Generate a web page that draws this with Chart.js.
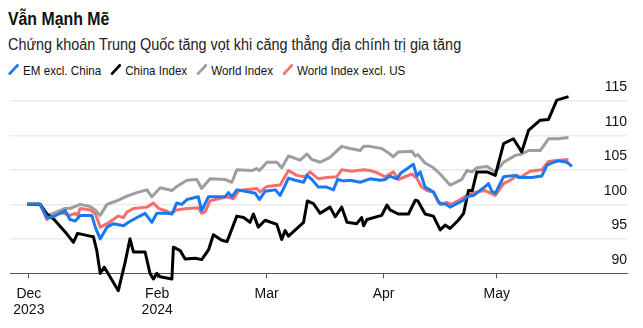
<!DOCTYPE html>
<html lang="vi">
<head>
    <meta charset="UTF-8">
    <title>Vẫn Mạnh Mẽ</title>
    <script src="https://cdn.jsdelivr.net/npm/chart.js"></script>
    <style>
        body {
            margin: 0;
            background: #fff;
            font-family: "Liberation Sans", Arial, sans-serif;
            color: #111;
        }
        .wrap {
            position: relative;
            width: 643px;
            height: 328px;
            overflow: hidden;
        }
        .title, .subtitle, .legend {
            position: absolute;
            left: 8px;
            white-space: nowrap;
            transform-origin: 0 0;
        }
        .title {
            top: 10px;
            font-size: 18px;
            line-height: 18px;
            font-weight: bold;
            transform: scaleX(0.88);
        }
        .subtitle {
            top: 36.5px;
            font-size: 16px;
            line-height: 16px;
            color: #222;
            transform: scaleX(0.9);
        }
        .legend {
            top: 64px;
            font-size: 13.5px;
            line-height: 13px;
            transform: scaleX(0.86);
        }
        .legend .item {
            display: inline-block;
            margin-right: 10.5px;
        }
        .legend svg {
            vertical-align: baseline;
            margin-right: 4.5px;
        }
        canvas {
            position: absolute;
            left: 0;
            top: 76px;
        }
    </style>
</head>
<body>
<div class="wrap">
    <div class="title">Vẫn Mạnh Mẽ</div>
    <div class="subtitle">Chứng khoán Trung Quốc tăng vọt khi căng thẳng địa chính trị gia tăng</div>
    <div class="legend" id="legend"></div>
    <canvas id="chart" width="643" height="252"></canvas>
</div>
<script>
// x = days since 1 Jan 2024, y = index value (rebased to 100)
const tickDays = [-3, 31, 60, 91, 121];
const tickLabels = [['Dec', '2023'], ['Feb', '2024'], 'Mar', 'Apr', 'May'];
const yTicks = [90, 95, 100, 105, 110, 115];

const seriesNames = ['EM excl. China', 'China Index', 'World Index', 'World Index excl. US'];
const seriesColors = ['#1a78f0', '#000000', '#9e9e9e', '#fa6d6d'];

const emExChina = [[-3.5,100],[0,100],[1.8,98.1],[3.5,98.2],[6.6,99.1],[7.9,97.8],[9.3,97.6],[10.6,98.4],[13.7,98.4],[14.6,96.7],
    [15.9,95.0],[17.7,96.7],[19.4,97.2],[22.1,96.9],[23.4,97.4],[26.0,98.2],[27.8,98.7],[29.6,97.4],[30.9,98.7],[33.6,98.7],
    [34.9,98.6],[36.2,100.2],[37.5,100.0],[38.9,100.7],[41.9,101.1],[42.8,99.1],[44.6,101.1],[49.0,101.1],[49.9,101.7],[50.8,101.1],
    [52.1,102.1],[54.3,101.9],[57.0,101.6],[58.1,100.7],[59.6,101.9],[62.3,102.1],[63.6,101.3],[65.8,103.8],[67.6,103.5],[69.8,103.2],
    [70.7,104.2],[72.0,103.6],[73.7,102.5],[75.9,102.5],[77.7,102.1],[78.8,103.6],[80.4,103.4],[82.1,103.5],[84.8,103.2],[87.4,103.7],
    [90.1,103.5],[91.4,103.6],[92.7,104.1],[94.5,103.7],[95.5,104.5],[98.9,105.8],[99.8,104.1],[100.7,104.7],[102.0,102.5],[104.2,101.8],
    [106.0,100.0],[107.3,100.1],[108.6,99.6],[112.2,100.6],[113.1,101.1],[114.9,101.3],[117.5,102.4],[118.8,103.0],[119.7,101.9],[120.6,101.6],
    [122.8,104.0],[125.9,104.2],[126.8,103.9],[130.3,103.9],[132.9,104.1],[134.3,105.7],[135.6,106.0],[137.3,106.3],[139.6,106.1],[140.9,105.5]];

const chinaIndex = [[-3.5,100],[0,100],[1.8,98.6],[3.5,97.9],[7.1,95.7],[8.8,94.5],[9.9,95.8],[13.2,95.4],[14.1,95.3],[15.0,93.3],
    [15.9,90.0],[17.0,90.9],[18.5,89.5],[20.7,87.5],[22.5,91.6],[23.8,95.0],[24.7,93.1],[27.8,93.1],[29.1,90.0],[30.0,89.2],
    [30.9,90.0],[31.8,89.5],[34.9,89.2],[35.3,93.8],[37.1,93.3],[38.4,92.1],[41.1,92.2],[42.8,92.0],[44.6,93.4],[45.9,95.6],
    [48.1,94.8],[49.5,94.6],[52.1,98.3],[53.9,98.1],[55.6,97.4],[56.5,98.6],[57.8,96.7],[59.6,97.7],[62.7,97.1],[64.0,94.9],
    [64.9,96.2],[65.8,95.4],[69.8,97.4],[70.8,100.5],[72.4,100.1],[74.2,98.7],[76.8,99.6],[78.2,98.2],[79.9,99.6],[81.3,97.4],
    [83.9,97.2],[85.2,98.1],[85.7,96.9],[86.6,97.8],[90.5,98.4],[91.9,99.9],[92.7,99.2],[94.9,98.6],[97.6,98.6],[99.4,100.6],
    [100.1,100.5],[102.0,98.6],[104.2,98.3],[106.0,96.3],[107.3,97.0],[108.6,96.5],[110.8,97.7],[112.2,98.7],[113.5,102.0],[114.5,102.0],
    [115.7,104.7],[118.4,104.7],[120.6,104.2],[122.8,108.8],[125.4,109.5],[127.6,107.6],[129.4,110.7],[132.5,112.2],[134.7,112.3],[136.9,115.1],
    [140.0,115.6]];

const worldIndex = [[-3.5,100],[0,100],[1.8,98.4],[3.5,98.7],[6.6,99.4],[7.9,99.4],[10.6,100.0],[13.2,99.7],[14.6,99.2],[15.9,98.4],
    [17.7,100.0],[20.7,100.6],[23.0,101.2],[25.6,101.7],[28.3,102.1],[29.6,101.1],[31.8,102.4],[34.9,102.0],[36.2,102.6],[38.9,103.5],
    [41.5,103.6],[42.8,102.3],[45.0,103.7],[49.0,103.6],[50.8,103.2],[52.1,105.0],[56.1,104.9],[57.4,105.2],[58.1,104.9],[60.1,106.1],
    [62.7,106.1],[64.0,105.3],[65.8,107.0],[68.9,106.4],[70.7,107.3],[72.0,106.5],[74.2,106.1],[76.8,106.8],[79.9,108.4],[82.1,108.1],
    [84.8,107.8],[85.7,108.4],[87.4,108.4],[90.5,108.1],[91.9,107.6],[93.6,106.9],[94.9,107.6],[98.5,107.7],[99.4,107.0],[100.1,107.2],
    [102.0,106.0],[104.2,105.3],[106.0,104.4],[108.6,102.8],[109.9,103.1],[111.7,103.6],[113.1,104.9],[114.4,104.7],[115.7,105.3],[118.4,105.5],
    [120.6,104.7],[122.8,106.1],[125.9,107.1],[127.6,107.3],[129.4,107.8],[132.5,107.8],[134.7,109.5],[137.3,109.5],[140.0,109.7]];

const worldExUS = [[-3.5,100],[0,100],[1.8,97.8],[3.9,98.7],[6.2,98.7],[7.9,98.4],[9.3,98.7],[9.9,98.4],[10.6,99.4],[13.2,99.2],
    [14.6,98.7],[15.9,96.7],[17.7,97.2],[20.7,98.3],[22.1,98.1],[23.0,98.9],[24.7,99.4],[28.3,99.6],[30.0,100.2],[31.4,99.4],
    [33.6,99.0],[34.9,98.7],[36.2,99.2],[38.9,99.4],[41.9,99.5],[42.8,98.7],[43.7,98.9],[45.0,100.5],[49.5,101.1],[51.2,100.8],
    [52.6,102.0],[57.4,102.3],[58.3,101.8],[60.1,102.6],[63.6,102.8],[65.8,104.9],[68.0,104.2],[70.2,104.0],[71.5,104.7],[73.7,103.7],
    [75.9,103.9],[78.6,104.0],[79.9,105.0],[82.6,104.8],[85.7,105.0],[87.4,104.9],[89.2,104.6],[91.4,104.0],[93.6,104.7],[94.9,103.6],
    [98.5,104.4],[99.8,103.8],[101.1,102.5],[102.5,102.0],[104.2,101.8],[105.5,100.3],[106.9,100.1],[107.7,100.3],[109.1,100.0],[111.3,100.7],
    [113.1,101.3],[114.9,101.7],[117.9,102.0],[120.6,101.3],[122.8,103.0],[124.6,103.5],[126.4,104.2],[127.2,103.9],[129.8,104.8],[132.9,105.0],
    [134.7,106.2],[137.3,106.4],[140.0,106.5]];

const seriesData = [emExChina, chinaIndex, worldIndex, worldExUS];

// legend
const legend = document.getElementById('legend');
seriesNames.forEach((name, i) => {
    const item = document.createElement('span');
    item.className = 'item';
    item.innerHTML = '<svg width="13" height="11"><line x1="1" y1="10.5" x2="12" y2="0.5" stroke="' +
        seriesColors[i] + '" stroke-width="3"/></svg>' + name;
    legend.appendChild(item);
});

Chart.defaults.font.family = '"Liberation Sans", Arial, sans-serif';

const chart = new Chart(document.getElementById('chart'), {
    type: 'line',
    data: {
        datasets: seriesNames.map((name, i) => ({
            label: name,
            data: seriesData[i].map(p => ({ x: p[0], y: p[1] })),
            borderColor: seriesColors[i],
            backgroundColor: seriesColors[i],
            borderWidth: 3,
            pointRadius: 0,
            tension: 0,
            clip: false,
            borderJoinStyle: 'round'
        }))
    },
    options: {
        responsive: false,
        animation: false,
        layout: { padding: { top: 11, right: 16, bottom: 2, left: 10 } },
        plugins: {
            legend: { display: false },
            tooltip: { enabled: false }
        },
        scales: {
            x: {
                type: 'linear',
                min: -8,
                max: 155.5,
                afterBuildTicks: axis => { axis.ticks = tickDays.map(v => ({ value: v })); },
                ticks: {
                    autoSkip: false,
                    maxRotation: 0,
                    padding: 7,
                    color: '#111',
                    font: { size: 14 },
                    callback: v => tickLabels[tickDays.indexOf(v)]
                },
                grid: { drawOnChartArea: false, drawTicks: true, tickLength: 5, color: '#555' },
                border: { display: true, color: '#555', width: 1 }
            },
            y: {
                position: 'right',
                min: 90,
                max: 117,
                afterBuildTicks: axis => { axis.ticks = yTicks.map(v => ({ value: v })); },
                ticks: {
                    mirror: true,
                    padding: 0,
                    labelOffset: -13.5,
                    color: '#111',
                    font: { size: 14 },
                    callback: v => String(v)
                },
                grid: {
                    drawTicks: false,
                    lineWidth: 1.5,
                    color: ctx => (ctx.tick && ctx.tick.value === 90) ? 'rgba(0,0,0,0)' : '#ebebeb'
                },
                border: { display: false }
            }
        }
    }
});
</script>
</body>
</html>
